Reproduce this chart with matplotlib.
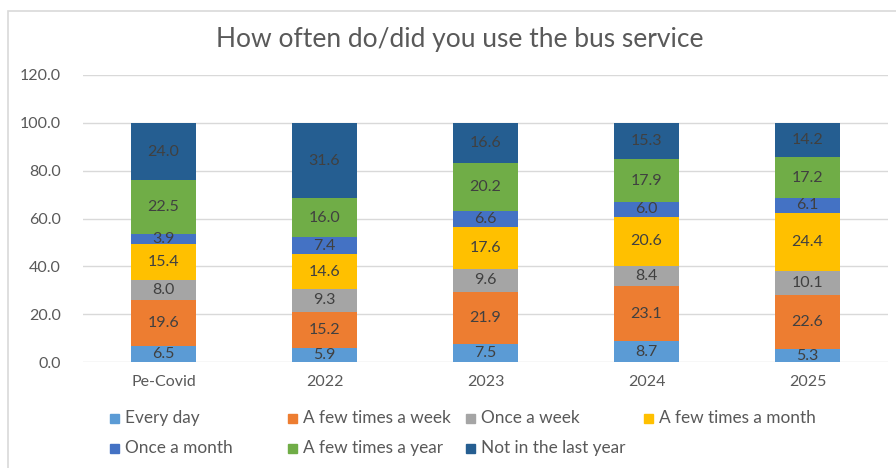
import matplotlib.pyplot as plt
from matplotlib.patches import Rectangle
import numpy as np

plt.rcParams['font.family'] = ['Lato', 'DejaVu Sans']

categories = ["Pe-Covid", "2022", "2023", "2024", "2025"]
series_names = ["Every day", "A few times a week", "Once a week", "A few times a month",
                "Once a month", "A few times a year", "Not in the last year"]
every_day = [6.5, 5.9, 7.5, 8.7, 5.3]
few_week = [19.6, 15.2, 21.9, 23.1, 22.6]
once_week = [8.0, 9.3, 9.6, 8.4, 10.1]
few_month = [15.4, 14.6, 17.6, 20.6, 24.4]
once_month = [3.9, 7.4, 6.6, 6.0, 6.1]
few_year = [22.5, 16.0, 20.2, 17.9, 17.2]
not_last_year = [24.0, 31.6, 16.6, 15.3, 14.2]
yticks = [0, 20, 40, 60, 80, 100, 120]

series = [every_day, few_week, once_week, few_month, once_month, few_year, not_last_year]
colors = ["#5B9BD5", "#ED7D31", "#A5A5A5", "#FFC000", "#4472C4", "#70AD47", "#255E91"]
W, H = 896, 468

fig = plt.figure(figsize=(W / 100, H / 100), dpi=100)
ax = fig.add_axes([83 / W, (H - 362) / H, 805 / W, 287 / H])

# cadre gris
fig.patches.append(Rectangle((8 / W, -0.1), 2, 1.1 - 11 / H, transform=fig.transFigure,
                             fill=False, edgecolor="#D9D9D9", linewidth=1.2))

x = np.arange(len(categories))
bottom = np.zeros(len(categories))
for vals, col in zip(series, colors):
    vals = np.array(vals)
    ax.bar(x, vals, bottom=bottom, width=0.4, color=col, zorder=3)
    for xi, b, v in zip(x, bottom, vals):
        ax.text(xi, b + v / 2, f"{v:.1f}", ha="center", va="center",
                fontsize=11.5, color="#404040", zorder=4)
    bottom += vals

ax.set_xlim(-0.5, len(categories) - 0.5)
ax.set_ylim(0, 120)
ax.set_yticks(yticks)
ax.set_yticklabels([f"{v:.1f}" for v in yticks])
ax.set_xticks(x)
ax.set_xticklabels(categories)
ax.tick_params(length=0, labelsize=11.5, labelcolor="#595959")
ax.tick_params(axis="y", pad=16)
ax.tick_params(axis="x", pad=9)
ax.grid(axis="y", color="#D9D9D9", linewidth=1, zorder=0)
for s in ax.spines.values():
    s.set_visible(False)

fig.text(460 / W, 1 - 40 / H, "How often do/did you use the bus service", ha="center",
         va="center", fontsize=19, color="#595959")

# légende manuelle
for i, (name, col) in enumerate(zip(series_names, colors)):
    cx = 110 + (i % 4) * 178
    cy = 418 + (i // 4) * 30
    fig.patches.append(Rectangle((cx / W, 1 - (cy + 4.5) / H), 9 / W, 9 / H,
                                 transform=fig.transFigure, color=col))
    fig.text((cx + 15) / W, 1 - cy / H, name, ha="left", va="center",
             fontsize=12.4, color="#595959")

fig.savefig("out.png", dpi=100)
